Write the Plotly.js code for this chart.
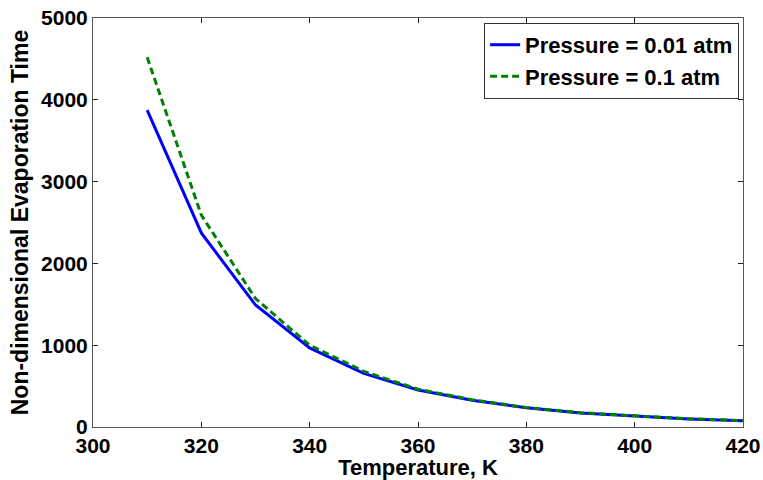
<!DOCTYPE html>
<html>
<head>
<meta charset="utf-8">
<script src="https://cdn.plot.ly/plotly-3.0.1.min.js"></script>
<style>html,body{margin:0;padding:0;background:#fff;}#chart{width:763px;height:480px;}</style>
</head>
<body>
<div id="chart"></div>
<script>
const temperature = [310, 320, 330, 340, 350, 360, 370, 380, 390, 400, 410, 420];
const timeP001 = [3875, 2372, 1491, 966, 655, 452, 328, 234, 172, 133, 99, 77];
const timeP01 = [4520, 2590, 1570, 1000, 680, 462, 334, 238, 175, 135, 100, 78];
const seriesNames = ['Pressure = 0.01 atm', 'Pressure = 0.1 atm'];
const xTicks = [300, 320, 340, 360, 380, 400, 420];
const yTicks = [0, 1000, 2000, 3000, 4000, 5000];

const fontFam = 'Liberation Sans, Arial, sans-serif';
const traces = [
  {x: temperature, y: timeP001, name: seriesNames[0], mode: 'lines', type: 'scatter',
   line: {color: '#0000FF', width: 3}},
  {x: temperature, y: timeP01, name: seriesNames[1], mode: 'lines', type: 'scatter',
   line: {color: '#008000', width: 3, dash: '7px,4px'}}
];
const axisCommon = {
  showline: true, linecolor: '#555', linewidth: 1, mirror: 'ticks',
  ticks: 'inside', ticklen: 5, tickcolor: '#222', tickwidth: 1,
  showgrid: false, zeroline: false,
  tickfont: {family: fontFam, size: 21, color: '#000', weight: 'bold'}
};
const layout = {
  width: 763, height: 480,
  margin: {l: 93, r: 20, t: 18, b: 53},
  paper_bgcolor: '#fff', plot_bgcolor: '#fff',
  showlegend: true,
  legend: {x: 0.994, xanchor: 'right', y: 0.988, yanchor: 'top',
    bgcolor: '#fff', bordercolor: '#333', borderwidth: 1,
    font: {family: fontFam, size: 22, color: '#000', weight: 'bold'},
    tracegroupgap: 0, itemwidth: 30},
  xaxis: Object.assign({}, axisCommon, {range: [300, 420], tickvals: xTicks,
    title: {text: 'Temperature, K', standoff: 6, font: {family: fontFam, size: 22, color: '#000', weight: 'bold'}}}),
  yaxis: Object.assign({}, axisCommon, {range: [0, 5000], tickvals: yTicks,
    title: {text: 'Non-dimensional Evaporation Time', standoff: 6, font: {family: fontFam, size: 23, color: '#000', weight: 'bold'}}})
};
Plotly.newPlot('chart', traces, layout, {displayModeBar: false, staticPlot: true});
</script>
</body>
</html>
